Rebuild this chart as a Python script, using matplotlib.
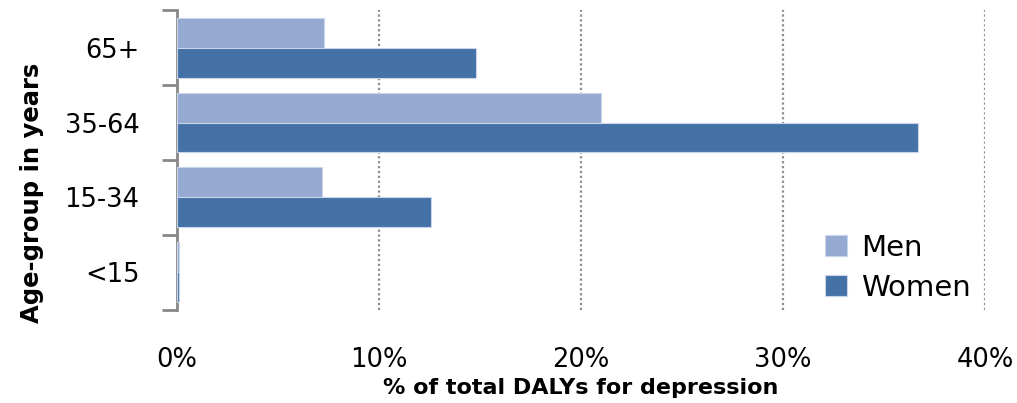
"""Share of depression DALYs by age group and sex."""

import matplotlib.pyplot as plt
import numpy as np

age_groups = ["<15", "15-34", "35-64", "65+"]
men = [0.12, 7.2, 21.0, 7.3]
women = [0.1, 12.6, 36.7, 14.8]
x_ticks = [0, 10, 20, 30, 40]
x_tick_labels = ["0%", "10%", "20%", "30%", "40%"]

MEN_COLOR = "#95A9D1"
WOMEN_COLOR = "#4472A7"

fig = plt.figure(figsize=(10.17, 4.03), dpi=100)
ax = fig.add_axes([0.174, 0.231, 0.7945, 0.744])

y = np.arange(len(age_groups))
bar_h = 0.4
ax.barh(y + bar_h / 2, men, height=bar_h, color=MEN_COLOR, edgecolor="#C9D5EA",
        linewidth=0.8, label="Men", zorder=3)
ax.barh(y - bar_h / 2, women, height=bar_h, color=WOMEN_COLOR, edgecolor="#C9D5EA",
        linewidth=0.8, label="Women", zorder=3)

ax.set_xlim(0, 40)
ax.set_ylim(-0.5, len(age_groups) - 0.5)

# dotted vertical gridlines
for xv in x_ticks[1:]:
    ax.axvline(xv, color="#8C8C8C", linestyle=(0, (1, 1.2)), linewidth=1.6, zorder=1)

ax.set_xticks(x_ticks)
ax.set_xticklabels(x_tick_labels, fontsize=18.5)
ax.tick_params(axis="x", length=0, pad=27)

ax.set_yticks(y)
ax.set_yticklabels(age_groups, fontsize=18.5)
ax.set_yticks(np.arange(-0.5, len(age_groups)), minor=True)
ax.tick_params(axis="y", which="major", length=0, pad=27)
ax.tick_params(axis="y", which="minor", length=11, width=2, color="#878787")

for side in ["top", "right", "bottom"]:
    ax.spines[side].set_visible(False)
ax.spines["left"].set_color("#878787")
ax.spines["left"].set_linewidth(2)

ax.set_xlabel("% of total DALYs for depression", fontsize=16, fontweight="bold", labelpad=3)
ax.set_ylabel("Age-group in years", fontsize=17.5, fontweight="bold")
ax.yaxis.set_label_coords(-0.165, 0.39)

ax.legend(loc="lower right", bbox_to_anchor=(1.015, -0.06), frameon=False, fontsize=21,
          handlelength=0.75, handleheight=0.75, handletextpad=0.5, labelspacing=0.4)

fig.savefig("out.png", dpi=100)
